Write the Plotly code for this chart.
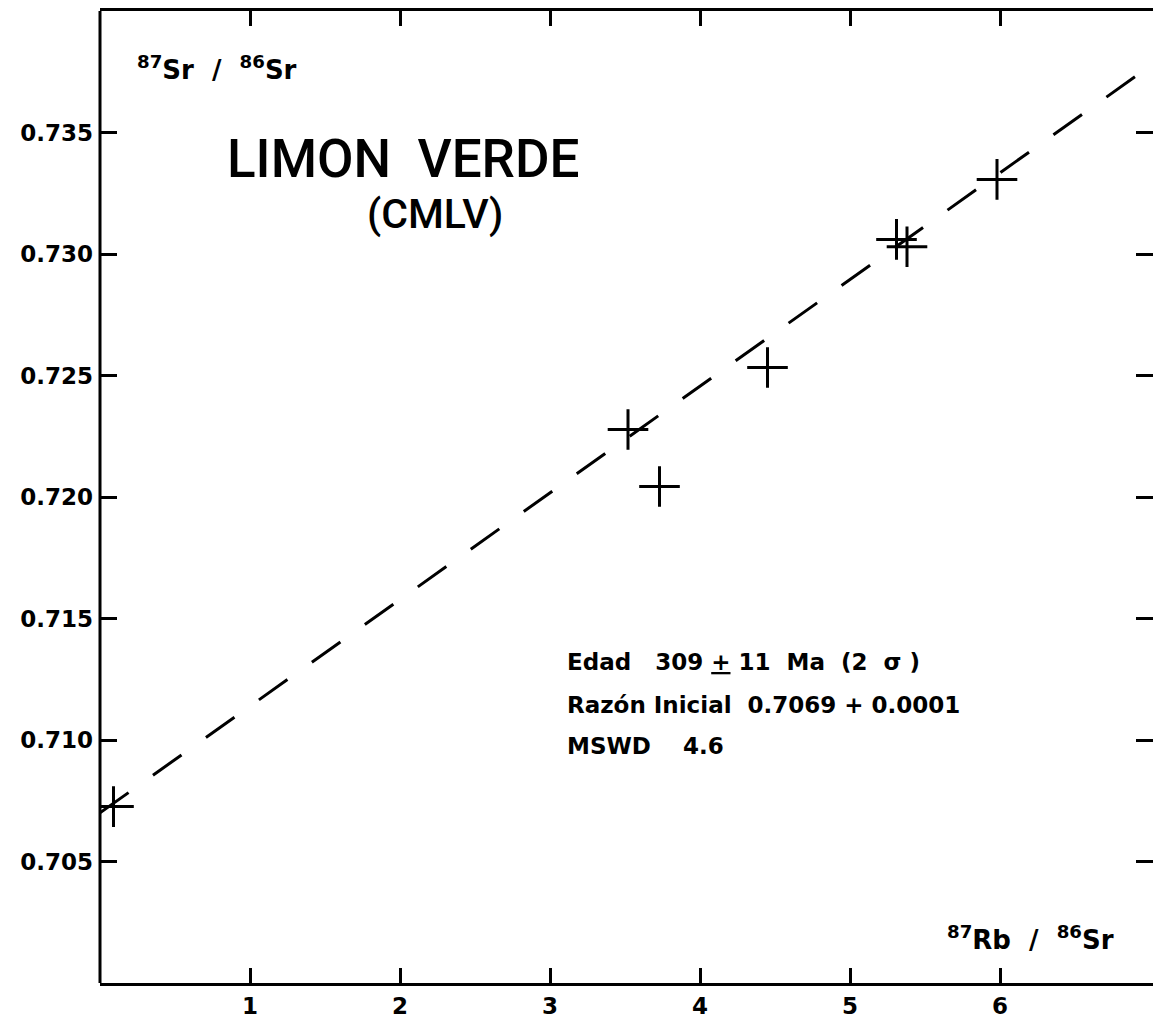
import plotly.graph_objects as go

# ---- data ----
rb_sr = [0.09, 3.52, 3.73, 4.45, 5.31, 5.38, 5.98]          # 87Rb/86Sr
sr_sr = [0.70726, 0.72278, 0.72043, 0.72533, 0.7306, 0.7303, 0.73307]  # 87Sr/86Sr

# isochron line endpoints (dashed)
iso_x = [0.0, 7.02]
iso_y = [0.7070, 0.73782]

x_tickvals = [1, 2, 3, 4, 5, 6]
x_ticktext = ["1", "2", "3", "4", "5", "6"]
y_tickvals = [0.705, 0.710, 0.715, 0.720, 0.725, 0.730, 0.735]
y_ticktext = ["0.705", "0.710", "0.715", "0.720", "0.725", "0.730", "0.735"]

FONT = "DejaVu Sans"
TITLE_FONT = "Roboto"

fig = go.Figure()
fig.add_trace(go.Scatter(
    x=iso_x, y=iso_y, mode="lines",
    line=dict(color="black", width=3, dash="35px,30px"),
    hoverinfo="skip", showlegend=False))
fig.add_trace(go.Scatter(
    x=rb_sr, y=sr_sr, mode="markers",
    marker=dict(symbol="cross-thin", size=29, line=dict(color="black", width=3)),
    showlegend=False))

def ann(x, y, text, size, family=FONT, weight="bold", xanchor="left"):
    fig.add_annotation(x=x, y=y, xref="x", yref="y", text=text, showarrow=False,
                       xanchor=xanchor, yanchor="middle",
                       font=dict(family=family, size=size, color="black", weight=weight))

ann(0.233, 0.73765, "<sup>87</sup>Sr  /  <sup>86</sup>Sr", 26)
ann(2.02, 0.73389, "LIMON  VERDE", 53, family=TITLE_FONT, weight=500, xanchor="center")
ann(2.233, 0.73163, "(CMLV)", 41, family=TITLE_FONT, weight=500, xanchor="center")
ann(3.1, 0.71319, "Edad   309 <u>+</u> 11  Ma  (2  σ )", 23)
ann(3.1, 0.71146, "Razón Inicial  0.7069 + 0.0001", 23)
ann(3.1, 0.70977, "MSWD    4.6", 23)
ann(5.63, 0.70185, "<sup>87</sup>Rb  /  <sup>86</sup>Sr", 26)

# left axis line (y axis drawn without its own line so the right edge stays clean)
fig.add_shape(type="line", xref="paper", yref="paper", x0=0, x1=0, y0=0, y1=1,
              line=dict(color="black", width=3))

fig.update_layout(
    width=1153, height=1018,
    margin=dict(l=100, r=0, t=11, b=35),
    paper_bgcolor="white", plot_bgcolor="white",
    xaxis=dict(range=[0, 7.02], tickvals=x_tickvals, ticktext=x_ticktext,
               ticks="inside", ticklen=15, tickwidth=3, tickcolor="black",
               showline=True, linewidth=3, linecolor="black", mirror="ticks",
               showgrid=False, zeroline=False,
               tickfont=dict(family=FONT, size=23, color="black", weight="bold")),
    yaxis=dict(range=[0.700, 0.740], tickvals=y_tickvals, ticktext=y_ticktext,
               ticks="inside", ticklen=17, tickwidth=3, tickcolor="black",
               showline=False, mirror="ticks",
               showgrid=False, zeroline=False, ticklabelstandoff=6,
               tickfont=dict(family=FONT, size=23, color="black", weight="bold")),
)

fig.write_html("out.html", config={"displayModeBar": False},
               post_script="document.body.style.margin='0';")
